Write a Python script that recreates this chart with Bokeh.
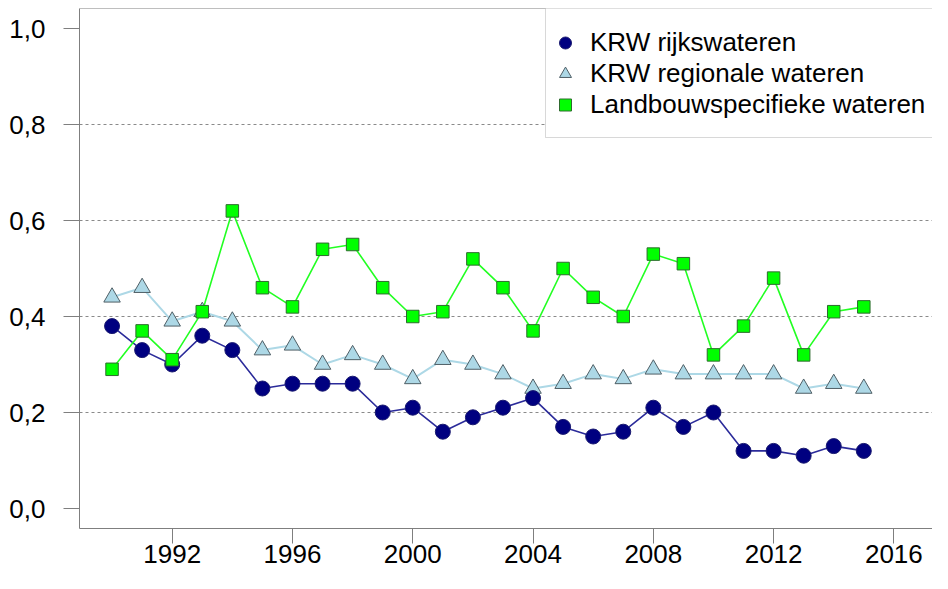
from bokeh.plotting import figure
from bokeh.models import (Range1d, FixedTicker, CustomJSTickFormatter, Legend, LegendItem,
                          BoxAnnotation, Span)
from bokeh.embed import file_html
from bokeh.resources import INLINE

# ---- data ----
years = list(range(1990, 2016))
krw_rijks = [0.38, 0.33, 0.30, 0.36, 0.33, 0.25, 0.26, 0.26, 0.26, 0.20, 0.21, 0.16, 0.19,
             0.21, 0.23, 0.17, 0.15, 0.16, 0.21, 0.17, 0.20, 0.12, 0.12, 0.11, 0.13, 0.12]
krw_regio = [0.44, 0.46, 0.39, 0.41, 0.39, 0.33, 0.34, 0.30, 0.32, 0.30, 0.27, 0.31, 0.30,
             0.28, 0.25, 0.26, 0.28, 0.27, 0.29, 0.28, 0.28, 0.28, 0.28, 0.25, 0.26, 0.25]
landbouw = [0.29, 0.37, 0.31, 0.41, 0.62, 0.46, 0.42, 0.54, 0.55, 0.46, 0.40, 0.41, 0.52,
            0.46, 0.37, 0.50, 0.44, 0.40, 0.53, 0.51, 0.32, 0.38, 0.48, 0.32, 0.41, 0.42]
series_names = ["KRW rijkswateren", "KRW regionale wateren", "Landbouwspecifieke wateren"]
x_ticks = [1992, 1996, 2000, 2004, 2008, 2012, 2016]
y_ticks = [0.0, 0.2, 0.4, 0.6, 0.8, 1.0]
grid_levels = [0.2, 0.4, 0.6, 0.8]

# ---- layout ----
FONT = "Liberation Sans"
FS = "26px"
GRAY = "#7f7f7f"
W, H = 932, 573
TOP, LEFT, BOTTOM = 8, 79, 45
FRAME_W, FRAME_H = W - LEFT, H - TOP - BOTTOM
PX_X = 30.07          # pixels per year
PX_Y = 480.0          # pixels per unit
X0 = 1992 - (171.7 - LEFT) / PX_X
X1 = X0 + FRAME_W / PX_X
Y1 = 1.0 + (28 - TOP) / PX_Y
Y0 = Y1 - FRAME_H / PX_Y

p = figure(width=W, height=H, output_backend="svg", toolbar_location=None,
           x_range=Range1d(X0, X1), y_range=Range1d(Y0, Y1),
           min_border_left=LEFT, min_border_right=0, min_border_top=TOP,
           min_border_bottom=BOTTOM)
p.outline_line_color = None
p.background_fill_color = "white"
p.border_fill_color = "white"

# grid
p.xgrid.visible = False
p.ygrid.ticker = FixedTicker(ticks=grid_levels)
p.ygrid.grid_line_color = "#8a8a8a"
p.ygrid.grid_line_dash = "3 3"
p.ygrid.grid_line_width = 1

# axes
for ax in (p.xaxis[0], p.yaxis[0]):
    ax.axis_line_color = GRAY
    ax.major_tick_line_color = GRAY
    ax.minor_tick_line_color = None
    ax.major_tick_in = 0
    ax.major_label_text_font = FONT
    ax.major_label_text_font_size = FS
    ax.major_label_text_color = "black"
p.xaxis.ticker = FixedTicker(ticks=x_ticks)
p.xaxis.major_tick_out = 15
p.xaxis.major_label_standoff = 1
p.yaxis.ticker = FixedTicker(ticks=y_ticks)
p.yaxis.major_tick_out = 16
p.yaxis.major_label_standoff = 18
p.yaxis.formatter = CustomJSTickFormatter(code="return tick.toFixed(1).replace('.', ',');")

# top frame line
p.add_layout(Span(location=Y1, dimension="width", line_color=GRAY, line_width=1))

# series
p.line(years, krw_regio, line_color="#add8e6", line_width=2)
r_regio = p.scatter(years, krw_regio, marker="triangle", size=16.5,
                    fill_color="#add8e6", line_color="#4f5f66", line_width=1)
p.line(years, krw_rijks, line_color="#2b2b9a", line_width=1.6)
r_rijks = p.scatter(years, krw_rijks, marker="circle", size=15,
                    fill_color="#000080", line_color="#1a1a70", line_width=1)
p.line(years, landbouw, line_color="#22ff22", line_width=1.6)
r_land = p.scatter(years, landbouw, marker="square", size=12.5,
                   fill_color="#00ff00", line_color="#2e6b2e", line_width=1)

# legend box (white, grey border), then legend
box_left = X0 + (545 - LEFT) / PX_X
box_bottom = Y1 - (137 - TOP) / PX_Y
p.add_layout(BoxAnnotation(left=box_left, right=X1 + 5, bottom=box_bottom, top=Y1 + 1,
                           fill_color="white", fill_alpha=1.0,
                           line_color=GRAY, line_width=1))

legend_top = 27.5
legend = Legend(items=[LegendItem(label=series_names[0], renderers=[r_rijks]),
                       LegendItem(label=series_names[1], renderers=[r_regio]),
                       LegendItem(label=series_names[2], renderers=[r_land])],
                location=(550 - LEFT, int(round(H - BOTTOM - legend_top - 93))),
                orientation="vertical",
                border_line_color=None, background_fill_alpha=0.0,
                padding=0, margin=0, spacing=0,
                glyph_width=30, glyph_height=31, label_height=31,
                label_standoff=10,
                label_text_font=FONT, label_text_font_size=FS,
                label_text_color="black")
p.add_layout(legend)

open("out.html", "w").write(file_html(p, INLINE))
